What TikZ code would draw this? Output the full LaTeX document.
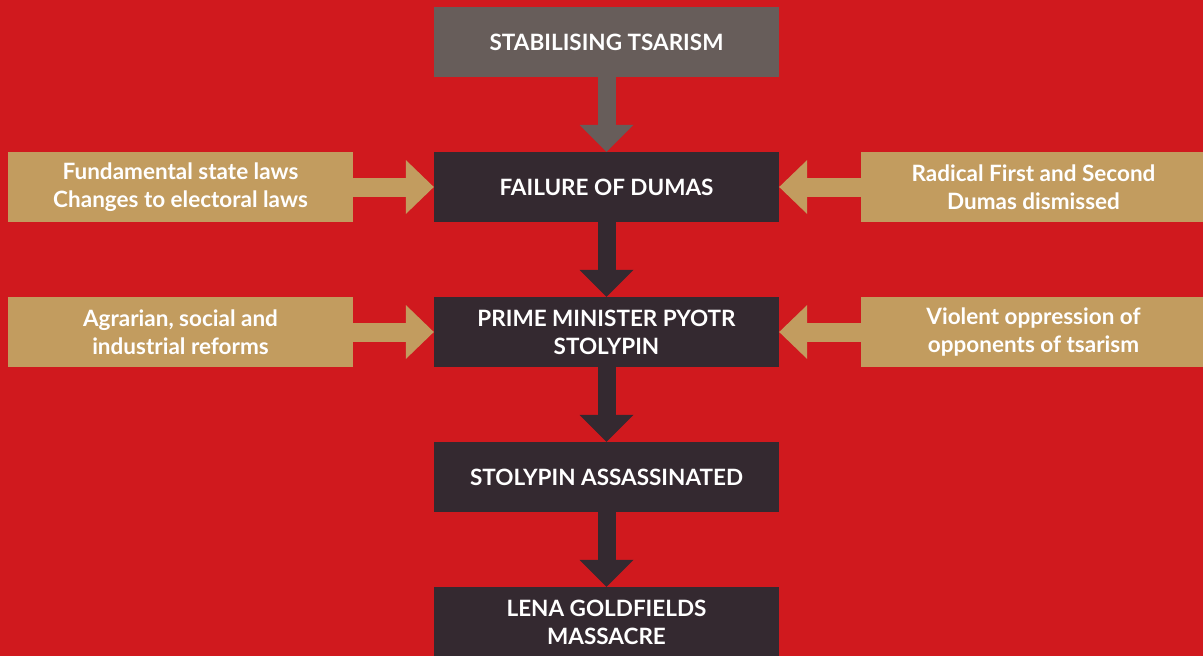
\documentclass[tikz,border=0pt]{standalone}
\usepackage{fontspec}
\setmainfont{Lato}
\usetikzlibrary{arrows.meta}

\definecolor{bgred}{HTML}{D0191E}
\definecolor{tan}{HTML}{C29C5F}
\definecolor{dark}{HTML}{342930}
\definecolor{grey}{HTML}{675D5A}

\begin{document}
\begin{tikzpicture}[x=1pt,y=1pt,
  box/.style={fill=dark,text=white,minimum width=345pt,minimum height=70pt,inner sep=0pt,
    align=center,font=\fontsize{22.5}{28}\selectfont\bfseries},
  side/.style={box,fill=tan},
  down/.style={line width=18pt,-{Triangle[length=27pt,width=54pt,line width=0pt]}},
  across/.style={tan,line width=19pt,-{Triangle[length=28pt,width=54pt,line width=0pt]}}]
\clip (0,0) rectangle (1203,-656);
\fill[bgred] (0,0) rectangle (1203,-656);
% main column
\node[box,fill=grey] (tsar) at (606.5,-42) {STABILISING TSARISM};
\node[box] (dumas) at (606.5,-187) {FAILURE OF DUMAS};
\node[box] (pm) at (606.5,-332) {PRIME MINISTER PYOTR\\STOLYPIN};
\node[box] (killed) at (606.5,-477) {STOLYPIN ASSASSINATED};
\node[box] (lena) at (606.5,-622) {LENA GOLDFIELDS\\MASSACRE};
% causes on both sides
\node[side] (lawsL) at (180.5,-187) {Fundamental state laws\\Changes to electoral laws};
\node[side] (radR) at (1033.5,-187) {Radical First and Second\\Dumas dismissed};
\node[side] (refL) at (180.5,-332) {Agrarian, social and\\industrial reforms};
\node[side] (opR) at (1033.5,-332) {Violent oppression of\\opponents of tsarism};
\draw[down,grey] (tsar) -- (dumas);
\draw[down,dark] (dumas) -- (pm);
\draw[down,dark] (pm) -- (killed);
\draw[down,dark] (killed) -- (lena);
\draw[across] (lawsL) -- (dumas);
\draw[across] (radR) -- (dumas);
\draw[across] (refL) -- (pm);
\draw[across] (opR) -- (pm);
\end{tikzpicture}
\end{document}
